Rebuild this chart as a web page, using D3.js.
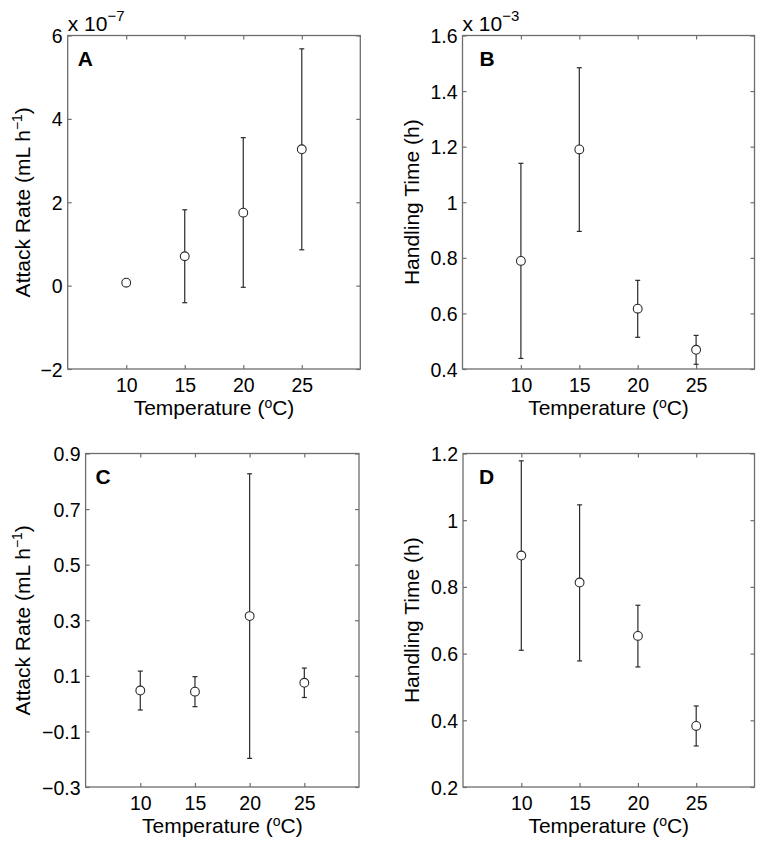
<!DOCTYPE html>
<html><head><meta charset="utf-8">
<script src="https://cdn.jsdelivr.net/npm/d3@7"></script>
<style>
body{margin:0;background:#fff}
svg{display:block}
text{font-family:"Liberation Sans",Arial,Helvetica,sans-serif;fill:#000}
</style>
</head><body>
<svg id="chart" width="762" height="845"></svg>
<script>
// ---------- data ----------
const temperature = [10, 15, 20, 25];
const xTickValues = [10, 15, 20, 25];
const xTickLabels = ["10", "15", "20", "25"];
const xLabelPre = "Temperature (";
const xLabelSup = "o";
const xLabelPost = "C)";

// Panel A: attack rate (x 10^-7 mL h^-1)
const attackA = [0.07, 0.705, 1.75, 3.27];
const attackALow = [0.07, -0.41, -0.04, 0.86];
const attackAHigh = [0.07, 1.82, 3.55, 5.68];
const yTicksA = [-2, 0, 2, 4, 6];
const yTickLabelsA = ["−2", "0", "2", "4", "6"];

// Panel B: handling time (x 10^-3 h)
const handlingB = [0.789, 1.19, 0.617, 0.469];
const handlingBLow = [0.438, 0.895, 0.514, 0.417];
const handlingBHigh = [1.14, 1.484, 0.719, 0.521];
const yTicksB = [0.4, 0.6, 0.8, 1, 1.2, 1.4, 1.6];
const yTickLabelsB = ["0.4", "0.6", "0.8", "1", "1.2", "1.4", "1.6"];

// Panel C: attack rate (mL h^-1)
const attackC = [0.047, 0.043, 0.315, 0.075];
const attackCLow = [-0.023, -0.011, -0.197, 0.022];
const attackCHigh = [0.117, 0.097, 0.827, 0.128];
const yTicksC = [-0.3, -0.1, 0.1, 0.3, 0.5, 0.7, 0.9];
const yTickLabelsC = ["−0.3", "−0.1", "0.1", "0.3", "0.5", "0.7", "0.9"];

// Panel D: handling time (h)
const handlingD = [0.894, 0.813, 0.653, 0.383];
const handlingDLow = [0.61, 0.578, 0.56, 0.323];
const handlingDHigh = [1.178, 1.046, 0.745, 0.443];
const yTicksD = [0.2, 0.4, 0.6, 0.8, 1, 1.2];
const yTickLabelsD = ["0.2", "0.4", "0.6", "0.8", "1", "1.2"];

// ---------- panel setup ----------
const panels = [
  {letter: "A", ylabel: "Attack Rate (mL h", ysup: "−1", exp: "−7",
   mean: attackA, lo: attackALow, hi: attackAHigh, yTicks: yTicksA, yLabels: yTickLabelsA,
   box: {l: 67.7, r: 360.3, t: 35.5, b: 369}, ylabX: 30, letterDx: 10},
  {letter: "B", ylabel: "Handling Time (h)", ysup: null, exp: "−3",
   mean: handlingB, lo: handlingBLow, hi: handlingBHigh, yTicks: yTicksB, yLabels: yTickLabelsB,
   box: {l: 462.5, r: 754.5, t: 35.5, b: 369}, ylabX: 419, letterDx: 17},
  {letter: "C", ylabel: "Attack Rate (mL h", ysup: "−1", exp: null,
   mean: attackC, lo: attackCLow, hi: attackCHigh, yTicks: yTicksC, yLabels: yTickLabelsC,
   box: {l: 85.6, r: 359, t: 453.5, b: 787}, ylabX: 30, letterDx: 10},
  {letter: "D", ylabel: "Handling Time (h)", ysup: null, exp: null,
   mean: handlingD, lo: handlingDLow, hi: handlingDHigh, yTicks: yTicksD, yLabels: yTickLabelsD,
   box: {l: 463, r: 754.5, t: 453.5, b: 787}, ylabX: 419, letterDx: 16}
];

const svg = d3.select("#chart");
const axisColor = "#6e6e6e";
const markColor = "#2a2a2a";
const tickLen = 4;
const tickFont = 19.5;
const labelFont = 21;

panels.forEach(p => {
  const B = p.box;
  const x = d3.scaleLinear().domain([5, 30]).range([B.l, B.r]);
  const y = d3.scaleLinear().domain(d3.extent(p.yTicks)).range([B.b, B.t]);
  const g = svg.append("g");

  const fmtY = d => p.yLabels[p.yTicks.indexOf(d)];
  const fmtX = d => xTickLabels[xTickValues.indexOf(d)];

  const bottom = g.append("g").attr("transform", `translate(0,${B.b})`)
    .call(d3.axisBottom(x).tickValues(xTickValues).tickFormat(fmtX).tickSizeInner(-tickLen).tickSizeOuter(0));
  const top = g.append("g").attr("transform", `translate(0,${B.t})`)
    .call(d3.axisTop(x).tickValues(xTickValues).tickFormat("").tickSizeInner(-tickLen).tickSizeOuter(0));
  const left = g.append("g").attr("transform", `translate(${B.l},0)`)
    .call(d3.axisLeft(y).tickValues(p.yTicks).tickFormat(fmtY).tickSizeInner(-tickLen).tickSizeOuter(0));
  const right = g.append("g").attr("transform", `translate(${B.r},0)`)
    .call(d3.axisRight(y).tickValues(p.yTicks).tickFormat("").tickSizeInner(-tickLen).tickSizeOuter(0));

  [bottom, top, left, right].forEach(a => {
    a.select(".domain").remove();
    a.selectAll(".tick line").attr("stroke", axisColor).attr("stroke-width", 1.2);
  });
  bottom.selectAll(".tick text").attr("y", 22.5).attr("dy", 0)
    .attr("font-size", tickFont).attr("fill", "#000").attr("font-family", null);
  left.selectAll(".tick text").attr("x", -5).attr("dy", 0).attr("y", 7)
    .attr("font-size", tickFont).attr("fill", "#000").attr("font-family", null);

  // box
  g.append("rect").attr("x", B.l).attr("y", B.t)
    .attr("width", B.r - B.l).attr("height", B.b - B.t)
    .attr("fill", "none").attr("stroke", axisColor).attr("stroke-width", 1.3);

  // error bars
  const cap = 2.5;
  const eb = g.append("g").attr("stroke", markColor).attr("stroke-width", 1.2);
  temperature.forEach((t, i) => {
    if (p.hi[i] === p.lo[i]) return;
    const cx = x(t);
    eb.append("line").attr("x1", cx).attr("x2", cx).attr("y1", y(p.lo[i])).attr("y2", y(p.hi[i]));
    eb.append("line").attr("x1", cx - cap).attr("x2", cx + cap).attr("y1", y(p.lo[i])).attr("y2", y(p.lo[i]));
    eb.append("line").attr("x1", cx - cap).attr("x2", cx + cap).attr("y1", y(p.hi[i])).attr("y2", y(p.hi[i]));
  });

  // markers
  g.append("g").selectAll("circle").data(temperature).join("circle")
    .attr("cx", d => x(d)).attr("cy", (d, i) => y(p.mean[i])).attr("r", 4.4)
    .attr("fill", "#fff").attr("stroke", markColor).attr("stroke-width", 1.1);

  // panel letter
  g.append("text").attr("x", B.l + p.letterDx).attr("y", B.t + 30)
    .attr("font-size", 21).attr("font-weight", "bold").text(p.letter);

  // x label
  const xl = g.append("text").attr("x", (B.l + B.r) / 2).attr("y", B.b + 46)
    .attr("text-anchor", "middle").attr("font-size", labelFont);
  xl.append("tspan").text(xLabelPre);
  xl.append("tspan").attr("dy", -7).attr("font-size", 14).text(xLabelSup);
  xl.append("tspan").attr("dy", 7).text(xLabelPost);

  // y label
  const yl = g.append("text")
    .attr("transform", `translate(${p.ylabX},${(B.t + B.b) / 2}) rotate(-90)`)
    .attr("text-anchor", "middle").attr("font-size", labelFont);
  yl.append("tspan").text(p.ylabel);
  if (p.ysup) {
    yl.append("tspan").attr("dy", -8).attr("font-size", 14).text(p.ysup);
    yl.append("tspan").attr("dy", 8).text(")");
  }

  // exponent
  if (p.exp) {
    const ex = g.append("text").attr("x", B.l).attr("y", B.t - 5).attr("font-size", labelFont);
    ex.append("tspan").text("x 10");
    ex.append("tspan").attr("dy", -10).attr("font-size", 15).text(p.exp);
  }
});
</script>
</body></html>
